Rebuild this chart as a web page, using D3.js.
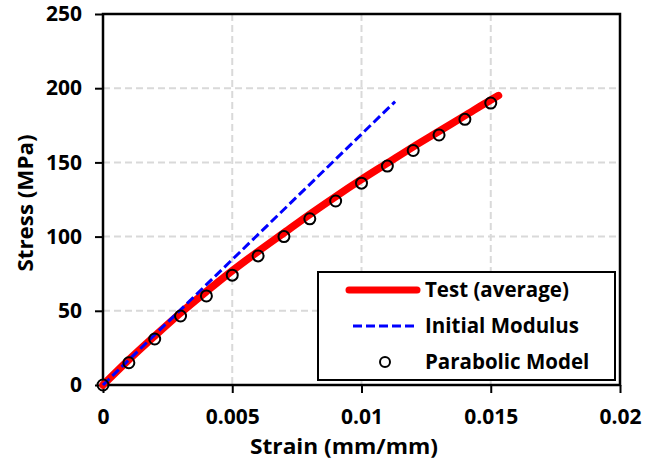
<!DOCTYPE html>
<html>
<head>
<meta charset="utf-8">
<script src="https://cdn.jsdelivr.net/npm/d3@7"></script>
<style>
  body { margin: 0; background: #fff; }
  text { font-family: "Open Sans", "Liberation Sans", sans-serif; font-weight: bold; fill: #000; }
</style>
</head>
<body>
<svg id="chart" width="647" height="465"></svg>
<script>
// test curve (average)
var testStrain = [0, 0.001, 0.002, 0.003, 0.004, 0.005, 0.006, 0.007, 0.008, 0.009, 0.010, 0.011, 0.012, 0.013, 0.014, 0.015, 0.0153];
var testStress = [0, 17, 33, 48.5, 63, 77, 90, 102.5, 115, 127, 138.5, 149.5, 160.5, 171, 181.5, 192, 195];

// initial modulus line
var modStrain = [0, 0.0113];
var modStress = [0, 191];

// parabolic model points
var parStrain = [0, 0.001, 0.002, 0.003, 0.004, 0.005, 0.006, 0.007, 0.008, 0.009, 0.010, 0.011, 0.012, 0.013, 0.014, 0.015];
var parStress = [0, 15, 31, 46.5, 60, 74, 87, 100, 112, 124, 136, 147.5, 158, 168.5, 179, 190];

var xTicks = [0, 0.005, 0.01, 0.015, 0.02];
var yTicks = [0, 50, 100, 150, 200, 250];
var legendLabels = ["Test (average)", "Initial Modulus", "Parabolic Model"];

var margin = {top: 14, right: 27, bottom: 80, left: 103};
var width = 647, height = 465;
var chartWidth = width - margin.left - margin.right;
var chartHeight = height - margin.top - margin.bottom;

var svg = d3.select("#chart");

var xScale = d3.scaleLinear().domain([0, 0.02]).range([0, chartWidth]);
var yScale = d3.scaleLinear().domain([0, 250]).range([chartHeight, 0]);

var g = svg.append("g")
    .attr("transform", "translate(" + margin.left + "," + margin.top + ")");

// grid
g.selectAll("line.vgrid")
    .data(xTicks.slice(1, -1))
    .enter().append("line")
    .attr("class", "vgrid")
    .attr("x1", function(d){ return xScale(d); })
    .attr("x2", function(d){ return xScale(d); })
    .attr("y1", 0).attr("y2", chartHeight)
    .style("stroke", "#d9d9d9").style("stroke-width", 2)
    .style("stroke-dasharray", "7,4");

g.selectAll("line.hgrid")
    .data(yTicks.slice(1, -1))
    .enter().append("line")
    .attr("class", "hgrid")
    .attr("y1", function(d){ return yScale(d); })
    .attr("y2", function(d){ return yScale(d); })
    .attr("x1", 0).attr("x2", chartWidth)
    .style("stroke", "#d9d9d9").style("stroke-width", 2)
    .style("stroke-dasharray", "7,4");

// frame
g.append("rect")
    .attr("width", chartWidth).attr("height", chartHeight)
    .style("fill", "none").style("stroke", "#000").style("stroke-width", 2.5);

// axes
var xAxis = g.append("g")
    .attr("transform", "translate(0," + chartHeight + ")")
    .call(d3.axisBottom(xScale).tickValues(xTicks).tickSize(8)
        .tickFormat(function(d){ return d === 0 ? "0" : String(+d.toFixed(3)); }));
var yAxis = g.append("g")
    .call(d3.axisLeft(yScale).tickValues(yTicks).tickSize(8).tickFormat(d3.format("d")));

[xAxis, yAxis].forEach(function(a){
    a.select(".domain").remove();
    a.selectAll("line").style("stroke", "#000").style("stroke-width", 2);
    a.selectAll("text").style("font-size", "21px").style("fill", "#000")
        .style("font-family", "'Open Sans', sans-serif").style("font-weight", "bold");
});
xAxis.selectAll("text").attr("y", 24);
yAxis.selectAll("text").attr("x", -21);

// series
var testData = testStrain.map(function(d, i){ return [d, testStress[i]]; });
var modData = modStrain.map(function(d, i){ return [d, modStress[i]]; });
var parData = parStrain.map(function(d, i){ return [d, parStress[i]]; });

var line = d3.line()
    .x(function(d){ return xScale(d[0]); })
    .y(function(d){ return yScale(d[1]); })
    .curve(d3.curveMonotoneX);

g.append("path").datum(testData)
    .attr("d", line)
    .style("fill", "none").style("stroke", "#ff0000").style("stroke-width", 7.5)
    .style("stroke-linecap", "round");

g.append("path").datum(modData)
    .attr("d", line)
    .style("fill", "none").style("stroke", "#0000ff").style("stroke-width", 3)
    .style("stroke-dasharray", "9,4");

g.selectAll("circle.par")
    .data(parData)
    .enter().append("circle")
    .attr("class", "par")
    .attr("cx", function(d){ return xScale(d[0]); })
    .attr("cy", function(d){ return yScale(d[1]); })
    .attr("r", 5.5)
    .style("fill", "none").style("stroke", "#000").style("stroke-width", 2);

// legend
var legend = svg.append("g").attr("transform", "translate(318,272)");
legend.append("rect")
    .attr("width", 297).attr("height", 108)
    .style("fill", "#fff").style("stroke", "#000").style("stroke-width", 2);

var rows = [18, 54, 90];
legend.append("line")
    .attr("x1", 31).attr("x2", 99).attr("y1", rows[0]).attr("y2", rows[0])
    .style("stroke", "#ff0000").style("stroke-width", 7).style("stroke-linecap", "round");
legend.append("line")
    .attr("x1", 35).attr("x2", 100).attr("y1", rows[1]).attr("y2", rows[1])
    .style("stroke", "#0000ff").style("stroke-width", 3).style("stroke-dasharray", "9,4");
legend.append("circle")
    .attr("cx", 67).attr("cy", rows[2]).attr("r", 5)
    .style("fill", "none").style("stroke", "#000").style("stroke-width", 2);

legend.selectAll("text.lab")
    .data(legendLabels)
    .enter().append("text")
    .attr("class", "lab")
    .attr("x", 107)
    .attr("y", function(d, i){ return rows[i]; })
    .attr("dy", "0.35em")
    .style("font-size", "20.5px")
    .text(function(d){ return d; });

// axis titles
svg.append("text")
    .attr("x", 344)
    .attr("y", 454)
    .attr("text-anchor", "middle")
    .attr("textLength", 188)
    .attr("lengthAdjust", "spacingAndGlyphs")
    .style("font-size", "22px")
    .text("Strain (mm/mm)");

svg.append("text")
    .attr("transform", "translate(33,203) rotate(-90)")
    .attr("text-anchor", "middle")
    .attr("textLength", 137)
    .attr("lengthAdjust", "spacingAndGlyphs")
    .style("font-size", "21px")
    .text("Stress (MPa)");
</script>
</body>
</html>
